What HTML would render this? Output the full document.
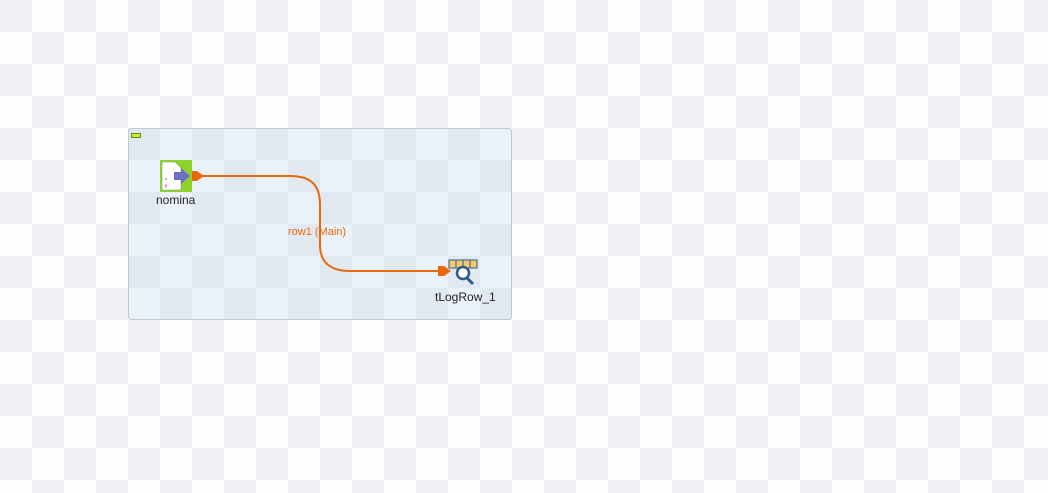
<!DOCTYPE html>
<html><head><style>
body{margin:0;width:1048px;height:493px;overflow:hidden;font-family:"Liberation Sans",sans-serif;
background-color:#fdfefe;
background-image:conic-gradient(transparent 25%,#f0f1f4 0 50%,transparent 0 75%,#f0f1f4 0);
background-size:64px 64px;position:relative}
.box{position:absolute;left:128px;top:128px;width:382px;height:190px;border:1px solid #b9c9d6;border-radius:3px;
background-color:#ebf1f8;
background-image:conic-gradient(transparent 25%,#e2e8f0 0 50%,transparent 0 75%,#e2e8f0 0);
background-size:64px 64px;background-position:-129px -129px}
.lbl{position:absolute;font-size:12px;color:#222}
</style></head><body>
<div class="box"></div>
<div style="position:absolute;left:131px;top:133px;width:8px;height:3px;background:#c3ef2c;border:1px solid #6a8a10"></div>
<svg width="1048" height="493" style="position:absolute;left:0;top:0">
<rect x="160" y="160" width="32" height="32" fill="#8fd32a"/>
<path d="M162 162h13l6 6v22h-19z" fill="#fff" stroke="#888" stroke-width="0.5"/>
<text x="164" y="186" font-size="14" fill="#d6209a" font-family="Liberation Sans">;</text>
<path d="M174 172h7v-4l9 8-9 8v-4h-7z" fill="#6d6ec2"/>
<path d="M193 176 L290 176 C312 176 320 186 320 205 L320 245 C320 262 330 271 350 271 L440 271" fill="none" stroke="#e8690b" stroke-width="2"/>
<path d="M192 171h5l7 5-7 5h-5z" fill="#e8690b"/>
<path d="M438 266h6l7 5-7 5h-6z" fill="#e8690b"/>
<text x="288" y="235" font-size="11" fill="#e8690b" font-family="Liberation Sans">row1 (Main)</text>
<rect x="449" y="260" width="28" height="8" fill="#f7c86a" stroke="#2d5c8a" stroke-width="1"/>
<path d="M456 260v8M463 260v8M470 260v8" stroke="#2d5c8a"/>
<circle cx="463" cy="273" r="6" fill="#fff" stroke="#2d5c8a" stroke-width="2.5"/>
<path d="M467 278l6 6" stroke="#2d5c8a" stroke-width="3"/>
</svg>
<div class="lbl" style="left:156px;top:193px">nomina</div>
<div class="lbl" style="left:435px;top:290px">tLogRow_1</div>
</body></html>
